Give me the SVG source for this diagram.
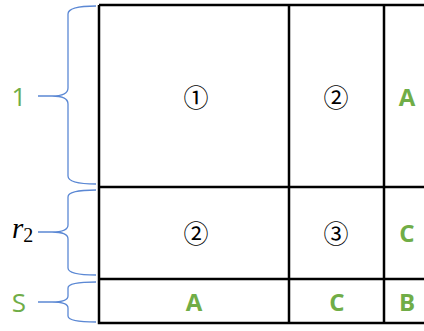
<svg xmlns="http://www.w3.org/2000/svg" width="424" height="331" viewBox="0 0 424 331">
<style>
.grid{stroke:#000;stroke-width:2.5;fill:none}
.brace{stroke:#5b88d4;stroke-width:1.3;fill:none}
.g{fill:#70ad47;font-family:"Open Sans","Liberation Sans",sans-serif;font-size:26px;text-anchor:middle;dominant-baseline:central}
.gb{fill:#70ad47;font-family:"Open Sans","Liberation Sans",sans-serif;font-size:24px;font-weight:bold;text-anchor:middle;dominant-baseline:central}
.c{fill:#000;font-family:"Noto Sans CJK JP","DejaVu Sans",sans-serif;font-size:25px;text-anchor:middle;dominant-baseline:central}
</style>
<rect width="424" height="331" fill="#fff"/>
<g id="grid">
<path class="grid" d="M99,5 H426 M99,5 V323 H426 M99,187 H426 M99,279 H426 M289,5 V323 M384,5 V323"/>
</g>
<g id="braces">
<path class="brace" d="M96,6 Q68,6 68,14 V88 Q68,96 52,96 H38 M96,184 Q68,184 68,176 V104 Q68,96 52,96"/>
<path class="brace" d="M96,190 Q68,190 68,197 V225 Q68,232 52,232 H38 M96,275 Q68,275 68,268 V239 Q68,232 52,232"/>
<path class="brace" d="M96,282 Q68,282 68,288 V296 Q68,302 52,302 H38 M96,322 Q68,322 68,316 V308 Q68,302 52,302"/>
</g>
<g id="labels">
<text class="g" x="19" y="96">1</text>
<text x="12" y="238" font-family="Liberation Serif,serif" font-size="29" font-style="italic">r<tspan font-style="normal" font-size="20" dy="4">2</tspan></text>
<text class="g" x="19" y="302">S</text>
</g>
<g id="row1">
<text class="c" x="196" y="96">①</text>
<text class="c" x="336" y="96">②</text>
<text class="gb" x="407" y="96">A</text>
</g>
<g id="row2">
<text class="c" x="196" y="232">②</text>
<text class="c" x="336" y="232">③</text>
<text class="gb" x="407" y="232">C</text>
</g>
<g id="row3">
<text class="gb" x="194" y="301">A</text>
<text class="gb" x="337" y="301">C</text>
<text class="gb" x="407" y="301">B</text>
</g>
</svg>
